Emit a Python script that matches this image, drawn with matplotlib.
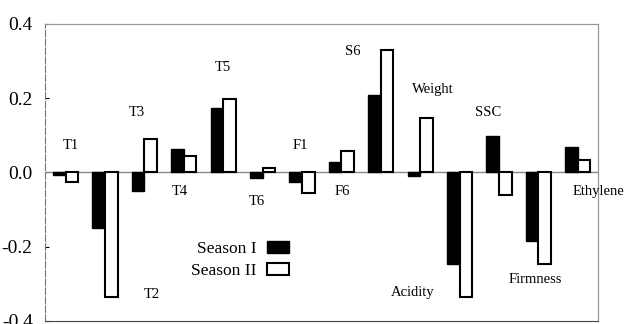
import numpy as np
import matplotlib.pyplot as plt

plt.rcParams['font.family'] = ['Liberation Serif', 'DejaVu Serif']

categories = ['T1', 'T2', 'T3', 'T4', 'T5', 'T6', 'F1', 'F6', 'S6',
              'Weight', 'Acidity', 'SSC', 'Firmness', 'Ethylene']
season_1 = [-0.006, -0.150, -0.051, 0.062, 0.174, -0.015, -0.025, 0.029,
            0.208, -0.009, -0.246, 0.098, -0.185, 0.069]
season_2 = [-0.027, -0.336, 0.091, 0.043, 0.199, 0.013, -0.055, 0.058,
            0.329, 0.147, -0.337, -0.062, -0.248, 0.033]

# where the category names sit on the chart (data coords)
label_x = [0.14, 2.20, 1.81, 2.91, 4.00, 4.86, 5.95, 7.02, 7.30,
           9.33, 8.80, 10.72, 11.92, 13.54]
label_y = [0.073, -0.33, 0.162, -0.052, 0.282, -0.079, 0.073, -0.052,
           0.325, 0.223, -0.325, 0.162, -0.288, -0.052]

y_ticks = [-0.4, -0.2, 0.0, 0.2, 0.4]
y_tick_labels = ['-0.4', '-0.2', '0.0', '0.2', '0.4']

fig = plt.figure(figsize=(6.27, 3.24), dpi=100)
ax = fig.add_axes([0.072, 0.010, 0.882, 0.916])

x = np.arange(len(categories))
w = 0.32
b1 = ax.bar(x - w / 2, season_1, w, color='black', edgecolor='black',
            linewidth=1.0, label='Season I', zorder=3)
b2 = ax.bar(x + w / 2, season_2, w, color='white', edgecolor='black',
            linewidth=1.5, label='Season II', zorder=3)

ax.axhline(0, color='#888888', linewidth=1.0, zorder=2)

for name, lx, ly in zip(categories, label_x, label_y):
    ax.text(lx, ly, name, ha='center', va='center', fontsize=10.5)

ax.set_xlim(-0.52, 13.52)
ax.set_ylim(-0.4, 0.4)
ax.set_yticks(y_ticks)
ax.set_yticklabels(y_tick_labels, fontsize=14)
ax.set_xticks([])
ax.tick_params(axis='y', direction='in', length=3, pad=9)

for side in ['top', 'right']:
    ax.spines[side].set_color('#999999')
    ax.spines[side].set_linewidth(0.9)
ax.spines['left'].set_color('#777777')
ax.spines['left'].set_linestyle((0, (6, 2)))
ax.spines['left'].set_linewidth(0.8)
ax.spines['bottom'].set_color('#444444')

ax.legend(handles=[b1, b2], loc='center right', bbox_to_anchor=(0.47, 0.205),
          frameon=False, markerfirst=False, fontsize=12.5,
          handlelength=1.3, handleheight=0.7, labelspacing=0.35,
          handletextpad=0.6)

fig.savefig('out.png', dpi=100)
